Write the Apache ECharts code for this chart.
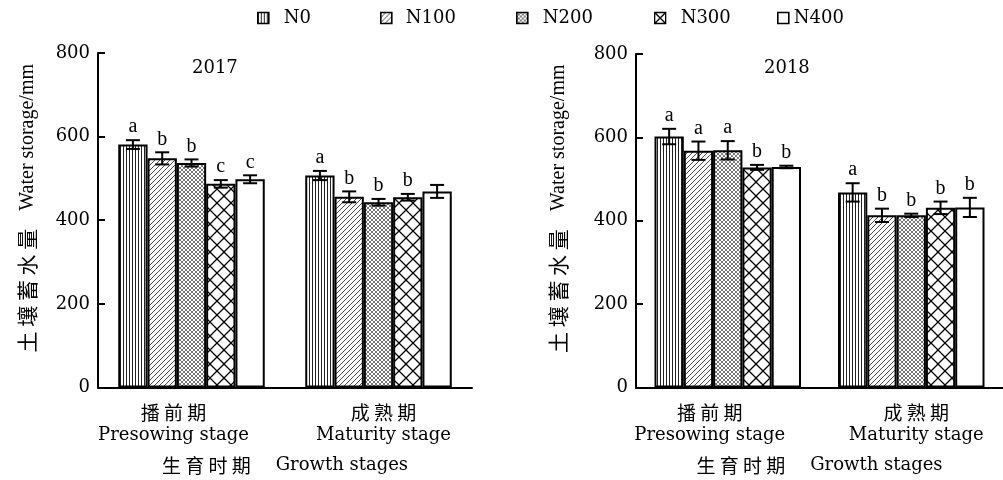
<!DOCTYPE html>
<html>
<head>
<meta charset="utf-8">
<script src="https://cdn.jsdelivr.net/npm/echarts@6/dist/echarts.min.js"></script>
<style>html,body{margin:0;padding:0;background:#fff}#c{width:1003px;height:480px}</style>
</head>
<body>
<div id="c"></div>
<script>
// ---- data ----
const treatments = ['N0', 'N100', 'N200', 'N300', 'N400'];
const stagesZh = ['播前期', '成熟期'];
const stagesEn = ['Presowing stage', 'Maturity stage'];
const years = ['2017', '2018'];

const pre2017 = [581, 548, 537, 487, 498];
const preErr2017 = [10.5, 14.5, 8.5, 9, 9.5];
const preLetters2017 = ['a', 'b', 'b', 'c', 'c'];
const mat2017 = [507, 456, 443, 455, 469];
const matErr2017 = [11, 13, 8, 8, 15.5];
const matLetters2017 = ['a', 'b', 'b', 'b', ''];

const pre2018 = [602, 568, 569, 528, 529];
const preErr2018 = [18.5, 22, 22, 6, 3];
const preLetters2018 = ['a', 'a', 'a', 'b', 'b'];
const mat2018 = [468, 413, 413, 431, 432];
const matErr2018 = [22, 16, 4, 15, 23];
const matLetters2018 = ['a', 'b', 'b', 'b', 'b'];

const yMin = 0, yMax = 800, yStep = 200;

// ---- styling ----
const SERIF = 'DejaVu Serif';
const TIMES = 'Liberation Serif';
const CJK = 'Noto Sans CJK SC';
const BW = 29.3;

function tile(w, h, draw) {
  const c = document.createElement('canvas');
  c.width = w; c.height = h;
  const g = c.getContext('2d');
  g.fillStyle = '#fff'; g.fillRect(0, 0, w, h);
  draw(g);
  return c;
}
function diag(g, s, dir) {
  g.beginPath();
  [-s, 0, s].forEach(k => {
    if (dir === '/') { g.moveTo(k, s); g.lineTo(k + s, 0); }
    else { g.moveTo(k, 0); g.lineTo(k + s, s); }
  });
  g.stroke();
}
const patV = tile(3, 3, g => { g.fillStyle = '#222'; g.fillRect(0, 0, 1, 3); });
const patD = tile(5, 5, g => { g.strokeStyle = '#333'; g.lineWidth = 0.9; diag(g, 5, '/'); });
const patF = tile(4, 4, g => { g.strokeStyle = '#555'; g.lineWidth = 0.8; diag(g, 4, '/'); diag(g, 4, '\\'); });
const patX = tile(14, 14, g => { g.strokeStyle = '#000'; g.lineWidth = 1.3; diag(g, 14, '/'); diag(g, 14, '\\'); });
const fills = [
  { image: patV, repeat: 'repeat' },
  { image: patD, repeat: 'repeat' },
  { image: patF, repeat: 'repeat' },
  { image: patX, repeat: 'repeat' },
  '#fff'
];

const spaced = s => s.split('').join(' ');

function barSeries(gi, pre, mat) {
  return treatments.map((t, i) => ({
    type: 'bar', name: t, xAxisIndex: gi, yAxisIndex: gi,
    data: [pre[i], mat[i]],
    barWidth: BW, barGap: '0%',
    itemStyle: { color: fills[i], borderColor: '#000', borderWidth: 2 },
    emphasis: { disabled: true }, silent: true, z: 2
  }));
}
function errSeries(gi, pre, preErr, preL, mat, matErr, matL) {
  const data = [], letters = [];
  [[pre, preErr, preL], [mat, matErr, matL]].forEach((arr, c) => {
    treatments.forEach((t, s) => { data.push([c, s, arr[0][s], arr[1][s]]); letters.push(arr[2][s]); });
  });
  return {
    type: 'custom', xAxisIndex: gi, yAxisIndex: gi, z: 5, silent: true,
    encode: { x: 0, y: 2 },
    data: data,
    renderItem: function (params, api) {
      const cat = api.value(0), s = api.value(1), v = api.value(2), e = api.value(3);
      const x = api.coord([cat, v])[0] + (s - 2) * BW;
      const yT = api.coord([cat, v + e])[1], yB = api.coord([cat, v - e])[1];
      const cw = 7, st = { stroke: '#000', lineWidth: 2 };
      const ch = [
        { type: 'line', shape: { x1: x, y1: yT, x2: x, y2: yB }, style: st },
        { type: 'line', shape: { x1: x - cw, y1: yT, x2: x + cw, y2: yT }, style: st },
        { type: 'line', shape: { x1: x - cw, y1: yB, x2: x + cw, y2: yB }, style: st }
      ];
      const L = letters[params.dataIndex];
      if (L) ch.push({ type: 'text', style: { text: L, x: x, y: yT - 3, align: 'center', verticalAlign: 'bottom', font: '20px "' + TIMES + '"', fill: '#000' } });
      return { type: 'group', children: ch };
    }
  };
}

function xAxis(gi) {
  return {
    type: 'category', gridIndex: gi, data: stagesZh,
    axisLine: { lineStyle: { color: '#000', width: 2 } },
    axisTick: { inside: true, length: 8, lineStyle: { color: '#000', width: 2 } },
    axisLabel: {
      interval: 0, margin: 14, color: '#000',
      formatter: (v, i) => `{c${i}|${spaced(stagesZh[i])}}\n{e${i}|${stagesEn[i]}}`,
      rich: {
        c0: { fontFamily: CJK, fontSize: 19, lineHeight: 22, color: '#000', padding: [0, 36, 0, 0] },
        e0: { fontFamily: SERIF, fontSize: 18, lineHeight: 23, color: '#000', padding: [0, 36, 0, 0] },
        c1: { fontFamily: CJK, fontSize: 19, lineHeight: 22, color: '#000', padding: [0, 0, 0, 10] },
        e1: { fontFamily: SERIF, fontSize: 18, lineHeight: 23, color: '#000', padding: [0, 0, 0, 10] }
      }
    },
    name: '{c|' + spaced('生育时期') + '}{g|}{e|Growth stages}',
    nameLocation: 'middle', nameGap: 67,
    nameTextStyle: {
      rich: {
        c: { fontFamily: CJK, fontSize: 19, lineHeight: 22, color: '#000' },
        g: { width: 25 },
        e: { fontFamily: SERIF, fontSize: 18, lineHeight: 22, color: '#000' }
      }
    }
  };
}
function yAxis(gi, gap) {
  return {
    type: 'value', gridIndex: gi, min: yMin, max: yMax, interval: yStep,
    axisLine: { show: true, lineStyle: { color: '#000', width: 2 } },
    axisTick: { show: true, inside: true, length: 7, lineStyle: { color: '#000', width: 2 } },
    splitLine: { show: false },
    axisLabel: { margin: 8, color: '#000', fontFamily: SERIF, fontSize: 18 },
    name: '{c|' + spaced('土壤蓄水量') + '}{g|}{e|Water storage/mm}',
    nameLocation: 'middle', nameGap: gap,
    nameTextStyle: {
      padding: [0, 0, 0, 24],
      rich: {
        c: { fontFamily: CJK, fontSize: 21, color: '#000' },
        g: { width: 18 },
        e: { fontFamily: TIMES, fontSize: 20, color: '#000' }
      }
    }
  };
}

const legendX = [257, 380, 516, 654, 777];
const legendPad = [10, 9, 10, 10, 0];
const legends = treatments.map((t, i) => ({
  left: legendX[i], top: 9, padding: 0, selectedMode: false,
  itemWidth: 11, itemHeight: 11,
  data: [i === 3 ? {
    name: t, icon: 'path://M0,0L10,0L10,10L0,10Z M0,0L10,10 M10,0L0,10',
    itemStyle: { color: '#fff', borderColor: '#000', borderWidth: 1.3 }
  } : { name: t, icon: 'rect', itemStyle: { borderWidth: 1.6 } }],
  textStyle: { fontFamily: SERIF, fontSize: 18, lineHeight: 18, color: '#000', padding: [0, 0, 0, legendPad[i]] }
}));

const option = {
  animation: false,
  backgroundColor: '#fff',
  title: [
    { text: years[0], left: 192, top: 59, padding: 0, textStyle: { fontFamily: SERIF, fontSize: 18, fontWeight: 'normal', color: '#000', lineHeight: 18 } },
    { text: years[1], left: 764, top: 59, padding: 0, textStyle: { fontFamily: SERIF, fontSize: 18, fontWeight: 'normal', color: '#000', lineHeight: 18 } }
  ],
  legend: legends,
  grid: [
    { left: 98, top: 53, width: 374, height: 339 },
    { left: 636, top: 54, width: 376, height: 339 }
  ],
  xAxis: [xAxis(0), xAxis(1)],
  yAxis: [yAxis(0, 60), yAxis(1, 67)],
  series: [
    ...barSeries(0, pre2017, mat2017),
    ...barSeries(1, pre2018, mat2018),
    errSeries(0, pre2017, preErr2017, preLetters2017, mat2017, matErr2017, matLetters2017),
    errSeries(1, pre2018, preErr2018, preLetters2018, mat2018, matErr2018, matLetters2018)
  ]
};
const chart = echarts.init(document.getElementById('c'), null, { renderer: 'canvas' });
chart.setOption(option);
</script>
</body>
</html>
